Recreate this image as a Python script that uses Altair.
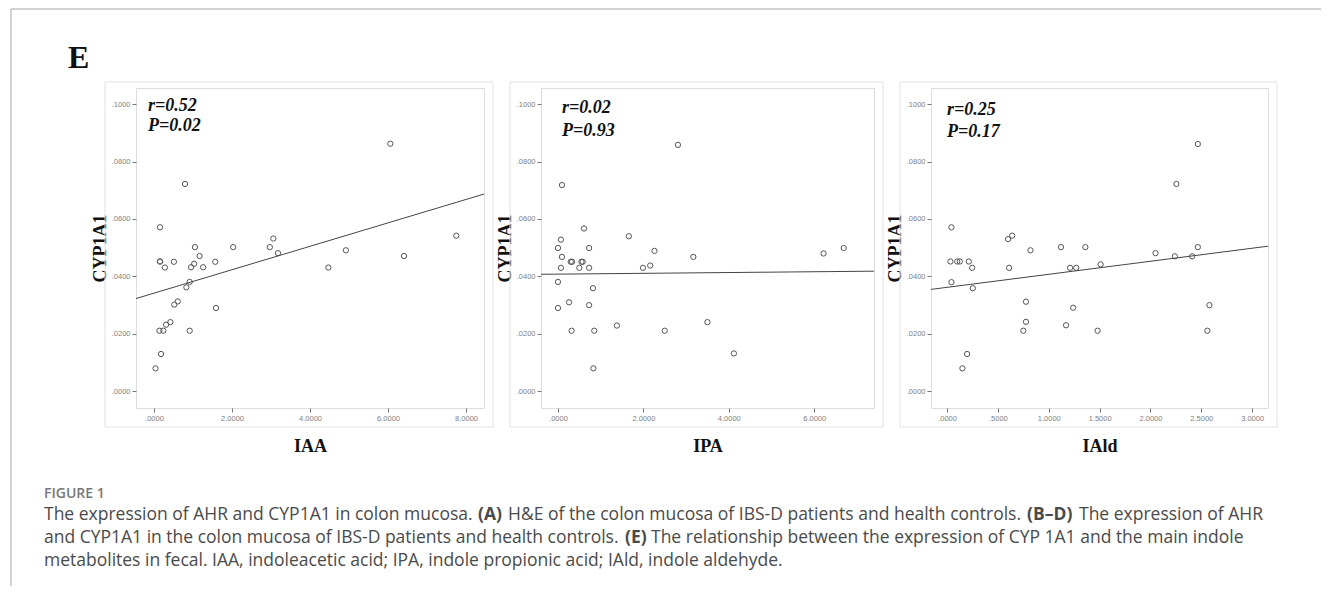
import altair as alt
import pandas as pd

# ---------------- data ----------------
iaa_x = [6.06, 0.795, 0.154, 0.154, 0.154, 0.28, 0.51, 1.05, 1.17, 1.03, 0.95, 1.26, 1.57,
         2.03, 2.97, 3.06, 3.18, 4.47, 4.92, 6.41, 7.75, 0.915, 0.83, 0.61, 0.52, 1.59,
         0.42, 0.31, 0.14, 0.24, 0.915, 0.18, 0.04]
iaa_y = [0.0862, 0.0722, 0.0571, 0.0452, 0.0452, 0.0431, 0.0451, 0.0502, 0.0471, 0.0444,
         0.0432, 0.0432, 0.0451, 0.0502, 0.0502, 0.0532, 0.0481, 0.0431, 0.0491, 0.0471,
         0.0542, 0.0381, 0.0362, 0.0313, 0.0302, 0.0290, 0.0241, 0.0232, 0.0211, 0.0211,
         0.0211, 0.0130, 0.0080]

ipa_x = [2.81, 0.093, 0.61, 0.07, 0.0, 0.73, 1.66, 0.093, 0.30, 0.33, 0.55, 0.58, 0.07, 0.50,
         0.73, 2.26, 1.99, 2.16, 3.17, 6.22, 6.69, 0.0, 0.82, 0.26, 0.0, 0.73, 1.38, 3.50,
         0.32, 0.85, 2.50, 4.12, 0.83]
ipa_y = [0.0858, 0.0718, 0.0567, 0.0528, 0.0499, 0.0499, 0.0540, 0.0468, 0.0451, 0.0451,
         0.0451, 0.0451, 0.0430, 0.0430, 0.0430, 0.0489, 0.0430, 0.0438, 0.0468, 0.0480,
         0.0499, 0.0381, 0.0359, 0.0310, 0.0290, 0.0300, 0.0229, 0.0241, 0.0211, 0.0211,
         0.0211, 0.0132, 0.0080]

iald_x = [2.466, 2.255, 0.043, 0.60, 0.64, 0.82, 1.12, 1.36, 2.05, 2.24, 2.41, 2.466, 1.51,
          1.21, 1.27, 0.61, 0.033, 0.099, 0.125, 0.214, 0.247, 0.043, 0.253, 0.776, 1.24,
          2.58, 0.776, 1.17, 0.75, 1.48, 2.56, 0.197, 0.151]
iald_y = [0.0861, 0.0722, 0.0571, 0.0530, 0.0542, 0.0491, 0.0502, 0.0502, 0.0481, 0.0470,
          0.0470, 0.0502, 0.0442, 0.0430, 0.0430, 0.0430, 0.0452, 0.0452, 0.0452, 0.0452,
          0.0430, 0.0380, 0.0359, 0.0312, 0.0291, 0.0300, 0.0242, 0.0230, 0.0211, 0.0211,
          0.0211, 0.0130, 0.0080]

y_ticks = [0.0, 0.02, 0.04, 0.06, 0.08, 0.10]
y_domain = [-0.0058, 0.1056]

panels = [
    dict(name="IAA", x=iaa_x, y=iaa_y, domain=[-0.4615, 8.4615], ticks=[0, 2, 4, 6, 8],
         r="r=0.52", p="P=0.02", width=348, rpos=(12, 23, 43)),
    dict(name="IPA", x=ipa_x, y=ipa_y, domain=[-0.397, 7.40], ticks=[0, 2, 4, 6],
         r="r=0.02", p="P=0.93", width=333, rpos=(21, 25, 48)),
    dict(name="IAld", x=iald_x, y=iald_y, domain=[-0.158, 3.156],
         ticks=[0, 0.5, 1.0, 1.5, 2.0, 2.5, 3.0],
         r="r=0.25", p="P=0.17", width=337, rpos=(16, 27, 49)),
]
HEIGHT = 320

# caption segments: text, bold?, page-x, line index
cap_text = ["The expression of AHR and CYP1A1 in colon mucosa.", "(A)",
            "H&E of the colon mucosa of IBS-D patients and health controls.", "(B\u2013D)",
            "The expression of AHR",
            "and CYP1A1 in the colon mucosa of IBS-D patients and health controls.", "(E)",
            "The relationship between the expression of CYP 1A1 and the main indole",
            "metabolites in fecal. IAA, indoleacetic acid; IPA, indole propionic acid; IAld, indole aldehyde."]
cap_bold = [False, True, False, True, False, False, True, False, False]
cap_x = [43, 477, 507, 1026, 1078, 43, 624, 650, 43]
cap_line = [0, 0, 0, 0, 0, 1, 1, 1, 2]

ORIGIN_X, ORIGIN_Y = 135, 87
one = pd.DataFrame({"a": [0]})

SERIF = "Liberation Serif"
SANS = "Liberation Sans"
CAP_FONT = "Open Sans"


def make_panel(cfg, first=False):
    df = pd.DataFrame({"x": cfg["x"], "y": cfg["y"]})
    w = cfg["width"]
    xenc = alt.X("x:Q",
                 scale=alt.Scale(domain=cfg["domain"], nice=False, zero=False),
                 axis=alt.Axis(values=cfg["ticks"],
                               labelExpr="datum.value < 1 ? substring(format(datum.value, '.4f'), 1) : format(datum.value, '.4f')",
                               title=cfg["name"], titleFont=SERIF, titleFontSize=18,
                               titleFontWeight="bold", titleColor="#111", titlePadding=16,
                               labelFont=SANS, labelFontSize=7.5, labelColor="#808080",
                               labelPadding=2, tickColor="#777", tickSize=4, domain=False,
                               grid=False))
    yenc = alt.Y("y:Q",
                 scale=alt.Scale(domain=y_domain, nice=False, zero=False),
                 axis=alt.Axis(values=y_ticks,
                               labelExpr="substring(format(datum.value, '.4f'), 1)",
                               title="CYP1A1", titleFont=SERIF, titleFontSize=18,
                               titleFontWeight="bold", titleColor="#111", titlePadding=2,
                               labelFont=SANS, labelFontSize=7.5, labelColor="#808080",
                               labelPadding=2, tickColor="#777", tickSize=4, domain=False,
                               grid=False))
    box = alt.Chart(one).mark_rect(fillOpacity=0, stroke="#e2e2e2", strokeWidth=1).encode(
        x=alt.value(-31), x2=alt.value(w + 9), y=alt.value(-6), y2=alt.value(HEIGHT + 19))
    pts = alt.Chart(df).mark_point(shape="circle", filled=False, size=28, color="#555",
                                   strokeWidth=1, opacity=1).encode(x=xenc, y=yenc)
    reg = alt.Chart(df).transform_regression("x", "y", extent=cfg["domain"]).mark_line(
        color="#444", strokeWidth=1).encode(x="x:Q", y="y:Q")
    rx, ry, py = cfg["rpos"]
    ann_r = alt.Chart(one).mark_text(text=cfg["r"], font=SERIF, fontSize=18, fontWeight="bold",
                                     fontStyle="italic", align="left", baseline="alphabetic",
                                     color="#111").encode(x=alt.value(rx), y=alt.value(ry))
    ann_p = alt.Chart(one).mark_text(text=cfg["p"], font=SERIF, fontSize=18, fontWeight="bold",
                                     fontStyle="italic", align="left", baseline="alphabetic",
                                     color="#111").encode(x=alt.value(rx), y=alt.value(py))
    layers = [box, pts, reg, ann_r, ann_p]
    if first:
        border_left = alt.Chart(one).mark_rule(color="#a8a8a8", strokeWidth=1).encode(
            x=alt.value(10 - ORIGIN_X), y=alt.value(8 - ORIGIN_Y), y2=alt.value(585 - ORIGIN_Y))
        border_top = alt.Chart(one).mark_rule(color="#a8a8a8", strokeWidth=1).encode(
            x=alt.value(10 - ORIGIN_X), x2=alt.value(1320 - ORIGIN_X), y=alt.value(8 - ORIGIN_Y))
        letter = alt.Chart(one).mark_text(text="E", font=SERIF, fontSize=32, fontWeight="bold",
                                          align="left", baseline="alphabetic",
                                          color="#111").encode(
            x=alt.value(67 - ORIGIN_X), y=alt.value(67 - ORIGIN_Y))
        fig = alt.Chart(one).mark_text(text="FIGURE 1", font=CAP_FONT, fontSize=14,
                                       fontWeight=600, align="left", baseline="alphabetic",
                                       color="#777").encode(
            x=alt.value(43 - ORIGIN_X), y=alt.value(497 - ORIGIN_Y))
        layers += [border_left, border_top, letter, fig]
        line_base = [519, 542, 565]
        for t, b, xx, ln in zip(cap_text, cap_bold, cap_x, cap_line):
            layers.append(alt.Chart(one).mark_text(
                text=t, font=CAP_FONT, fontSize=17.5, fontWeight="bold" if b else "normal",
                align="left", baseline="alphabetic", color="#4a4a4a").encode(
                x=alt.value(xx - ORIGIN_X), y=alt.value(line_base[ln] - ORIGIN_Y)))
    return alt.layer(*layers).properties(width=w, height=HEIGHT)


charts = [make_panel(c, first=(i == 0)) for i, c in enumerate(panels)]

chart = alt.hconcat(*charts, spacing=57, bounds="flush").properties(
    padding={"left": 2, "top": 0, "right": 0, "bottom": 0}
).configure_view(stroke="#808080", strokeWidth=1.5).configure(background="white")

chart.save("out.html", embed_options={"renderer": "svg", "actions": False})
